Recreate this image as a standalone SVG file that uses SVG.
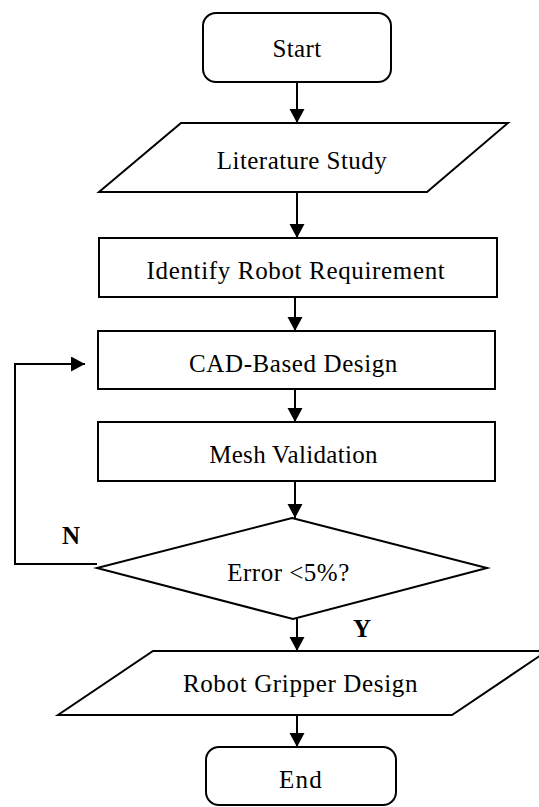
<svg xmlns="http://www.w3.org/2000/svg" width="539" height="807" viewBox="0 0 539 807">
  <style>
    .shape { fill: #ffffff; stroke: #000000; stroke-width: 2; }
    .label { font-family: 'Liberation Serif', 'DejaVu Serif', serif; font-size: 25px; fill: #000000; text-anchor: middle; }
    .branch { font-family: 'Liberation Serif', 'DejaVu Serif', serif; font-size: 25px; font-weight: bold; fill: #000000; text-anchor: middle; }
    .flow { fill: none; stroke: #000000; stroke-width: 2; }
  </style>
  <defs>
    <marker id="arrow" markerUnits="userSpaceOnUse" markerWidth="16" markerHeight="16" refX="14" refY="7.5" orient="auto">
      <path d="M0,0 L14,7.5 L0,15 Z" fill="#000000"/>
    </marker>
  </defs>

  <rect width="539" height="807" fill="#ffffff"/>

  <!-- connectors -->
  <g id="connectors">
    <line class="flow" x1="297" y1="82" x2="297" y2="123" marker-end="url(#arrow)"/>
    <line class="flow" x1="297" y1="192" x2="297" y2="238" marker-end="url(#arrow)"/>
    <line class="flow" x1="295" y1="297" x2="295" y2="331" marker-end="url(#arrow)"/>
    <line class="flow" x1="295" y1="389" x2="295" y2="422" marker-end="url(#arrow)"/>
    <line class="flow" x1="295" y1="481" x2="295" y2="518" marker-end="url(#arrow)"/>
    <line class="flow" x1="297" y1="619" x2="297" y2="651" marker-end="url(#arrow)"/>
    <line class="flow" x1="297" y1="715" x2="297" y2="747" marker-end="url(#arrow)"/>
    <!-- loop back from the decision to the design step -->
    <path class="flow" d="M97,564 H15 V364 H85" marker-end="url(#arrow)"/>
    <text class="branch" x="71" y="544">N</text>
    <text class="branch" x="362" y="637">Y</text>
  </g>

  <g id="start">
    <rect class="shape" x="203" y="13" width="188" height="69" rx="13" ry="13"/>
    <text class="label" x="297" y="56.5" letter-spacing="0.4">Start</text>
  </g>

  <g id="literature-study">
    <polygon class="shape" points="181,123 508,123 427,192 99,192"/>
    <text class="label" x="302" y="169" letter-spacing="0.45">Literature Study</text>
  </g>

  <g id="identify-requirement">
    <rect class="shape" x="99" y="238" width="398" height="59"/>
    <text class="label" x="296" y="279" letter-spacing="0.65">Identify Robot Requirement</text>
  </g>

  <g id="cad-design">
    <rect class="shape" x="98" y="331" width="397" height="58"/>
    <text class="label" x="293.5" y="372" letter-spacing="0.6">CAD-Based Design</text>
  </g>

  <g id="mesh-validation">
    <rect class="shape" x="98" y="422" width="397" height="59"/>
    <text class="label" x="293.5" y="463" letter-spacing="0.3">Mesh Validation</text>
  </g>

  <g id="error-check">
    <polygon class="shape" points="292,518 487,568 293,619 97,568"/>
    <text class="label" x="288.5" y="581" letter-spacing="0.5">Error &lt;5%?</text>
  </g>

  <g id="gripper-design">
    <polygon class="shape" points="153,651 547,651 452,715 58,715"/>
    <text class="label" x="300.5" y="692" letter-spacing="0.65">Robot Gripper Design</text>
  </g>

  <g id="end">
    <rect class="shape" x="206" y="747" width="190" height="58" rx="13" ry="13"/>
    <text class="label" x="301" y="788" letter-spacing="1.3">End</text>
  </g>
</svg>
